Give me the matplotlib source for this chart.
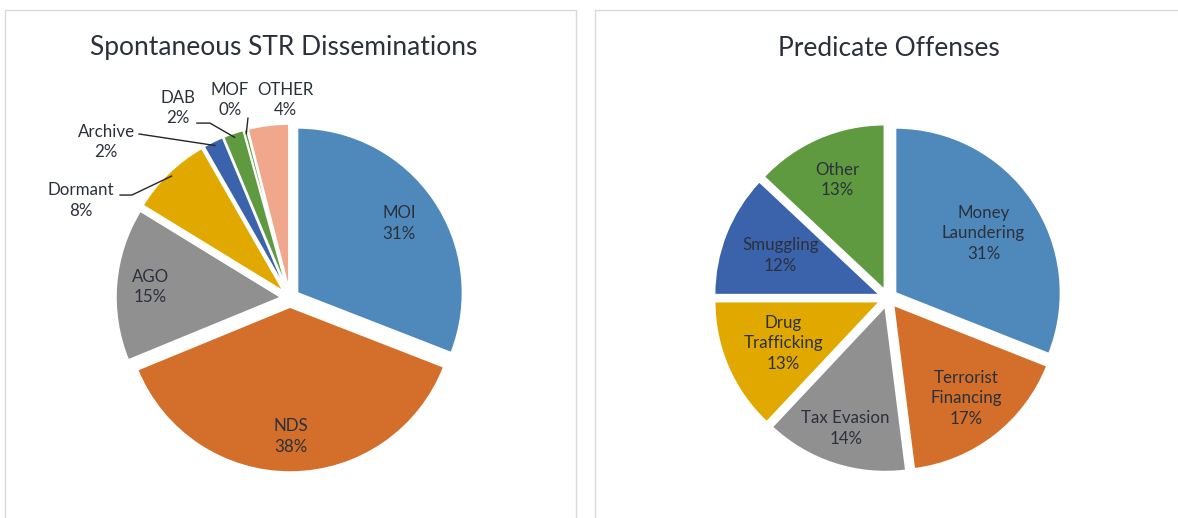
import numpy as np
import matplotlib.pyplot as plt
from matplotlib.patches import Rectangle

# data
str_labels = ["MOI", "NDS", "AGO", "Dormant", "Archive", "DAB", "MOF", "OTHER"]
str_values = [31, 38, 15, 8, 2, 2, 0.3, 4]
str_colors = ["#4F89BC", "#D36F2B", "#909090", "#E1A900", "#3B63AB", "#5F9A41", "#5F9A41", "#F0A78B"]

off_labels = ["Money\nLaundering", "Terrorist\nFinancing", "Tax Evasion",
              "Drug\nTrafficking", "Smuggling", "Other"]
off_values = [31, 17, 14, 13, 12, 13]
off_colors = ["#4F89BC", "#D36F2B", "#909090", "#E1A900", "#3B63AB", "#5F9A41"]

W, H = 1178, 518
R = 165.0          # pie radius in pixels
TXT = "#2B303B"
FONT = "Lato"
LFS = 12.2         # data label size

plt.rcParams["font.family"] = [FONT, "DejaVu Sans"]
fig = plt.figure(figsize=(W / 100, H / 100), dpi=100)


def pie_axes(x0, x1, cx, cy):
    ax = fig.add_axes([x0 / W, 0, (x1 - x0) / W, (H - 10) / H])
    return ax, ((x0 - cx) / R, (x1 - cx) / R), ((cy - H) / R, (cy - 10) / R)


def draw_pie(ax, values, colors, xlim, ylim):
    ax.pie(values, colors=colors, startangle=90, counterclock=False,
           explode=[0.055] * len(values),
           wedgeprops=dict(edgecolor="white", linewidth=1.2))
    ax.set_xlim(*xlim)
    ax.set_ylim(*ylim)
    ax.set_aspect("auto")
    ax.axis("off")
    v = np.array(values, dtype=float)
    cum = np.cumsum(v) / v.sum()
    mids = 90 - 360 * (cum - v / v.sum() / 2)
    return np.radians(mids), v / v.sum() * 100


# panel frames
fig.patches.append(Rectangle((5 / W, -0.1), 571 / W, (H - 10) / H + 0.1, transform=fig.transFigure,
                             fill=False, edgecolor="#D9D9E0", linewidth=1))
fig.patches.append(Rectangle((595 / W, -0.1), 0.6, (H - 10) / H + 0.1, transform=fig.transFigure,
                             fill=False, edgecolor="#D9D9E0", linewidth=1))

# ---- left pie
ax1, xl, yl = pie_axes(6, 575, 290, 298)
mids, pcts = draw_pie(ax1, str_values, str_colors, xl, yl)
inside = {"MOI": 0.80, "NDS": 0.84, "AGO": 0.85}
outside = {  # text position, leader line start points
    "Dormant": ((-1.267, 0.59), [(-1.03, 0.624), (-0.958, 0.624)]),
    "Archive": ((-1.115, 0.945), [(-0.915, 0.994)]),
    "DAB": ((-0.679, 1.152), [(-0.564, 1.06), (-0.485, 1.06)]),
    "MOF": ((-0.364, 1.2), [(-0.255, 1.09)]),
    "OTHER": ((-0.03, 1.2), None),
}
for lab, a, p in zip(str_labels, mids, pcts):
    txt = f"{lab}\n{p:.0f}%"
    if lab in inside:
        r = inside[lab]
        ax1.text(r * np.cos(a), r * np.sin(a), txt, ha="center", va="center",
                 fontsize=LFS, color=TXT, linespacing=1.35)
    else:
        (tx, ty), pts = outside[lab]
        ax1.text(tx, ty, txt, ha="center", va="center", fontsize=LFS,
                 color=TXT, linespacing=1.35)
        if pts:
            edge = (1.03 * np.cos(a), 1.03 * np.sin(a))
            xs = [q[0] for q in pts] + [edge[0]]
            ys = [q[1] for q in pts] + [edge[1]]
            ax1.plot(xs, ys, color="#262626", lw=1, clip_on=False)

# ---- right pie
ax2, xl, yl = pie_axes(596, W, 888, 298)
mids, pcts = draw_pie(ax2, off_values, off_colors, xl, yl)
label_r = [0.70, 0.77, 0.83, 0.69, 0.70, 0.78]
for lab, a, p, r in zip(off_labels, mids, pcts, label_r):
    ax2.text(r * np.cos(a), r * np.sin(a), f"{lab}\n{p:.0f}%", ha="center",
             va="center", fontsize=LFS, color=TXT, linespacing=1.35)

# titles
fig.text(284 / W, 1 - 48 / H, "Spontaneous STR Disseminations", ha="center",
         va="center", fontsize=19, color=TXT)
fig.text(889 / W, 1 - 48 / H, "Predicate Offenses", ha="center",
         va="center", fontsize=19, color=TXT)

fig.savefig("out.png", dpi=100, facecolor="white")
